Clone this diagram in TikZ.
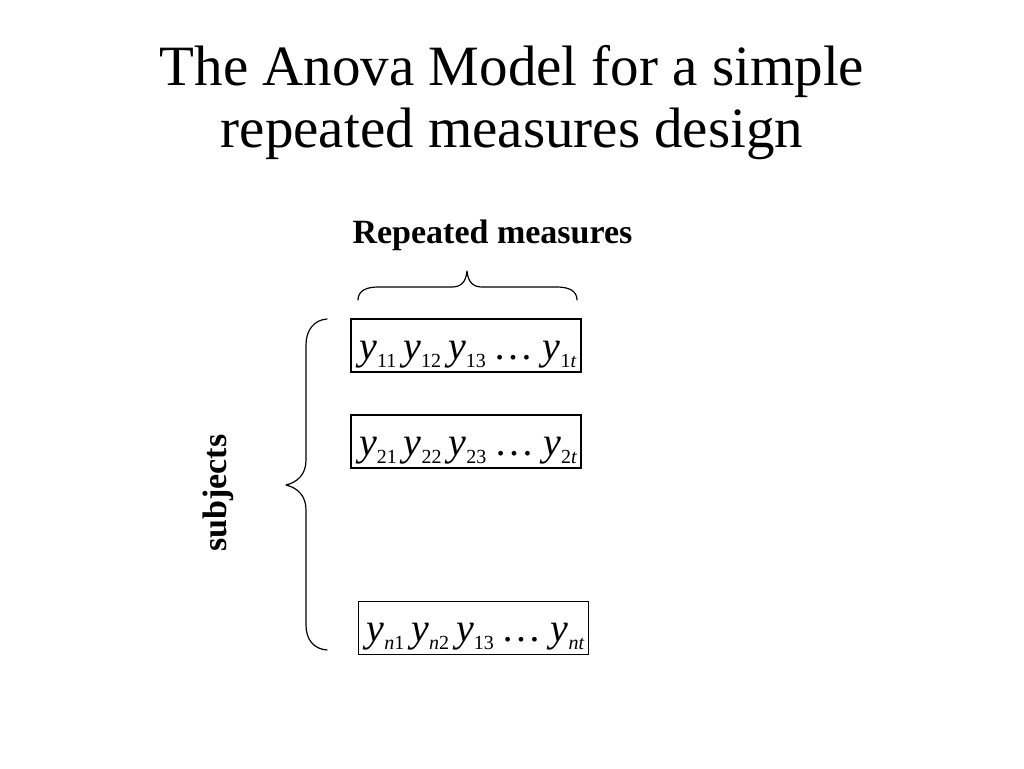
\documentclass[tikz,border=0pt]{standalone}
\usepackage{fontspec}
\setmainfont{Liberation Serif}
\newcommand{\ysub}[1]{{\fontsize{40}{40}\selectfont\itshape y}\raisebox{-8pt}{\fontsize{20}{20}\selectfont #1}}
\newcommand{\ygap}{\hspace{7pt}}
\begin{document}
\begin{tikzpicture}[x=1pt,y=-1pt,
  titletext/.style={anchor=base,inner sep=0pt,font=\fontsize{57}{57}\selectfont},
  labeltext/.style={inner sep=0pt,font=\fontsize{34}{34}\selectfont\bfseries},
  rowbox/.style={draw,line width=1.2pt,inner sep=0pt,minimum width=230pt,minimum height=53pt,text height=40pt,text depth=13pt,font=\fontsize{40}{40}\selectfont},
  bracestyle/.style={line width=1.2pt,line cap=round,line join=round}]
\useasboundingbox (0,0) rectangle (1024,768);
\fill[white] (0,0) rectangle (1024,768);
\node[titletext] (t1) at (512,85) {The Anova Model for a simple};
\node[titletext] (t2) at (512,147) {repeated measures design};
\node[labeltext,anchor=base] (rm) at (492.5,243) {Repeated measures};
\node[labeltext,rotate=90] (subj) at (218,493) {subjects};
\node[rowbox] (r1) at (466,345.5) {\hspace{4pt}\ysub{11}\ygap\ysub{12}\ygap\ysub{13}\hspace{8pt}\dots\hspace{9pt}\ysub{1\textit{t}}};
\node[rowbox] (r2) at (466,441.5) {\hspace{4pt}\ysub{21}\ygap\ysub{22}\ygap\ysub{23}\hspace{8pt}\dots\hspace{9pt}\ysub{2\textit{t}}};
\node[rowbox,minimum height=52pt] (rn) at (473.5,628) {\hspace{4pt}\ysub{\textit{n}1}\ygap\ysub{\textit{n}2}\ygap\ysub{13}\hspace{8pt}\dots\hspace{9pt}\ysub{\textit{nt}}};
% top brace
\coordinate (tb1) at (358,300);
\coordinate (tb2) at (577,300);
\coordinate (tbtip) at (467,271);
\draw[bracestyle] (tb1) .. controls (358,291) and (366,287) .. (378,287) -- (452,287)
  .. controls (461,287) and (466,282) .. (tbtip)
  .. controls (468,282) and (473,287) .. (482,287) -- (557,287)
  .. controls (569,287) and (577,291) .. (tb2);
% left brace
\coordinate (lb1) at (327,319);
\coordinate (lb2) at (327,650);
\coordinate (lbtip) at (286,485);
\draw[bracestyle] (lb1) .. controls (314,320) and (306,330) .. (306,345) -- (306,460)
  .. controls (306,474) and (298,482) .. (lbtip)
  .. controls (298,488) and (306,496) .. (306,510) -- (306,625)
  .. controls (306,640) and (314,649) .. (lb2);
\end{tikzpicture}
\end{document}
